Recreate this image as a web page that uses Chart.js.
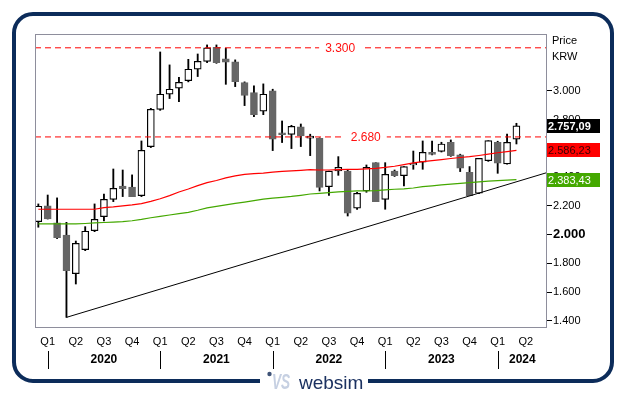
<!DOCTYPE html>
<html lang="en">

<head>
    <meta charset="UTF-8">
    <title>Price KRW monthly</title>
    <script src="https://cdn.jsdelivr.net/npm/chart.js@4.4.0/dist/chart.umd.min.js"></script>
    <style>
        body { margin: 0; background: #fff; }
        canvas { display: block; }
    </style>
</head>

<body>
    <canvas id="myChart" width="629" height="395"></canvas>

    <script>
        // Monthly candles, Dec 2019 - Mar 2024 (one entry per month)
        var months = ['2019-12',
            '2020-01', '2020-02', '2020-03', '2020-04', '2020-05', '2020-06', '2020-07', '2020-08', '2020-09', '2020-10', '2020-11', '2020-12',
            '2021-01', '2021-02', '2021-03', '2021-04', '2021-05', '2021-06', '2021-07', '2021-08', '2021-09', '2021-10', '2021-11', '2021-12',
            '2022-01', '2022-02', '2022-03', '2022-04', '2022-05', '2022-06', '2022-07', '2022-08', '2022-09', '2022-10', '2022-11', '2022-12',
            '2023-01', '2023-02', '2023-03', '2023-04', '2023-05', '2023-06', '2023-07', '2023-08', '2023-09', '2023-10', '2023-11', '2023-12',
            '2024-01', '2024-02', '2024-03'];

        var openPrices = [2091, 2200, 2082, 1998, 1729, 1896, 2028, 2126, 2246, 2339,
            2332, 2272, 2613, 2872, 2977, 3019, 3072, 3151, 3206, 3303,
            3223, 3202, 3058, 2988, 2859, 3000, 2708, 2698, 2750, 2671,
            2671, 2334, 2443, 2443, 2184, 2304, 2501, 2246, 2443, 2411,
            2485, 2504, 2573, 2580, 2643, 2555, 2434, 2288, 2515, 2643,
            2492, 2664];
        var highPrices = [2214, 2276, 2256, 2086, 1956, 2056, 2214, 2283, 2457, 2450,
            2416, 2652, 2879, 3271, 3181, 3095, 3220, 3257, 3320, 3320,
            3297, 3216, 3063, 3035, 3049, 3012, 2791, 2761, 2770, 2699,
            2674, 2443, 2543, 2450, 2295, 2485, 2501, 2501, 2450, 2474,
            2582, 2652, 2652, 2643, 2659, 2560, 2474, 2531, 2654, 2650,
            2699, 2775];
        var lowPrices = [2052, 2109, 1973, 1425, 1657, 1889, 2021, 2096, 2230, 2265,
            2265, 2265, 2606, 2865, 2947, 2926, 3063, 3100, 3197, 3192,
            3046, 3030, 2898, 2821, 2835, 2585, 2641, 2599, 2613, 2550,
            2304, 2274, 2413, 2130, 2175, 2295, 2230, 2177, 2405, 2339,
            2455, 2455, 2555, 2575, 2545, 2439, 2272, 2285, 2510, 2427,
            2490, 2631];
        var closePrices = [2198, 2109, 1980, 1750, 1940, 2024, 2107, 2246, 2323, 2320,
            2265, 2587, 2872, 2977, 3012, 3060, 3151, 3206, 3299, 3197,
            3200, 3065, 2968, 2835, 2977, 2664, 2696, 2754, 2687, 2686,
            2328, 2443, 2469, 2149, 2288, 2469, 2230, 2420, 2411, 2474,
            2497, 2573, 2559, 2631, 2550, 2462, 2272, 2531, 2654, 2497,
            2643, 2757.09];

        // moving averages (red = shorter, green = longer)
        var avgRed = [2177, 2177, 2177, 2177, 2177, 2177, 2177, 2188, 2193, 2200,
            2207, 2216, 2232, 2250, 2272, 2297, 2318, 2341, 2362, 2377,
            2395, 2409, 2419, 2425, 2428, 2435, 2440, 2444, 2448, 2452,
            2450, 2450, 2452, 2454, 2455, 2458, 2462, 2468, 2476, 2488,
            2500, 2508, 2515, 2522, 2530, 2537, 2543, 2551, 2560, 2570,
            2578, 2586.23];
        var avgGreen = [2075, 2075, 2075, 2075, 2075, 2078, 2082, 2085, 2088, 2091,
            2097, 2106, 2118, 2127, 2137, 2146, 2155, 2170, 2187, 2197,
            2208, 2218, 2227, 2237, 2247, 2254, 2260, 2266, 2274, 2283,
            2288, 2293, 2298, 2302, 2305, 2305, 2307, 2312, 2316, 2319,
            2325, 2334, 2340, 2346, 2352, 2357, 2362, 2367, 2372, 2376,
            2380, 2383.43];

        // support trend line: starts at the March 2020 low, ends at the right edge
        var trendMonth = '2020-03';
        var trendValues = [1425, 2432];

        // horizontal levels
        var levels = [3300, 2680];

        // axis labels
        var priceTicks = [1400, 1600, 1800, 2000, 2200, 2400, 2600, 2800, 3000];
        var quarterLabels = ['Q1', 'Q2', 'Q3', 'Q4'];
        var years = ['2020', '2021', '2022', '2023', '2024'];

        var X_MIN = -1.355, X_MAX = 53.26;

        function monthPos(m) {
            var p = m.split('-');
            return (Number(p[0]) - 2020) * 12 + (Number(p[1]) - 1);
        }

        function fmt(v, dec) {
            var s = v.toFixed(dec || 0).split('.');
            var whole = s[0].replace(/\B(?=(\d{3})+(?!\d))/g, '.');
            return s[1] ? whole + ',' + s[1] : whole;
        }

        var xPos = months.map(monthPos);
        var isUp = closePrices.map(function (c, i) { return c >= openPrices[i]; });

        var quarterTicks = [];
        for (var q = 0; q <= X_MAX; q += 3) quarterTicks.push(q);

        var FONT = "'Liberation Sans', Arial, sans-serif";
        Chart.defaults.font.family = FONT;
        Chart.defaults.color = '#000';

        // frame, plot border, year row, value boxes, level labels, logo
        var decor = {
            id: 'decor',
            beforeDraw: function (chart) {
                var ctx = chart.ctx;
                ctx.save();
                ctx.fillStyle = '#fff';
                ctx.fillRect(0, 0, chart.width, chart.height);
                ctx.restore();
            },
            afterDraw: function (chart) {
                var ctx = chart.ctx, a = chart.chartArea;
                var xs = chart.scales.x, ys = chart.scales.y;
                ctx.save();

                // plot border
                ctx.strokeStyle = '#8e8e9c';
                ctx.lineWidth = 1;
                ctx.strokeRect(a.left + 0.5, a.top + 0.5, a.right - a.left - 1, a.bottom - a.top - 1);

                // level labels with white background
                var labelAt = [0.596, 0.646];
                ctx.font = '12px ' + FONT;
                ctx.textAlign = 'center';
                ctx.textBaseline = 'middle';
                levels.forEach(function (lv, i) {
                    var x = a.left + (a.right - a.left) * labelAt[i];
                    var y = ys.getPixelForValue(lv);
                    var w = ctx.measureText(fmt(lv)).width;
                    ctx.fillStyle = '#fff';
                    ctx.fillRect(x - w / 2 - 6, y - 6, w + 12, 12);
                    ctx.fillStyle = '#ff1010';
                    ctx.fillText(fmt(lv), x, y + 0.5);
                });

                // year separators and labels
                ctx.strokeStyle = '#000';
                ctx.lineWidth = 1;
                ctx.font = 'bold 12px ' + FONT;
                ctx.fillStyle = '#000';
                years.forEach(function (yr, i) {
                    var start = (Number(yr) - 2020) * 12;
                    var x0 = xs.getPixelForValue(start);
                    var x1 = xs.getPixelForValue(Math.min(start + 12, X_MAX));
                    ctx.beginPath();
                    ctx.moveTo(Math.round(x0) + 0.5, 351);
                    ctx.lineTo(Math.round(x0) + 0.5, 369);
                    ctx.stroke();
                    ctx.fillText(yr, (x0 + x1) / 2, 360);
                });

                // Price / KRW
                ctx.font = '11px ' + FONT;
                ctx.textAlign = 'left';
                ctx.fillText('Price', a.right + 5, 41);
                ctx.fillText('KRW', a.right + 5, 57);

                // last-value boxes
                var boxes = [
                    { v: closePrices[closePrices.length - 1], bg: '#000', fg: '#fff', bold: true },
                    { v: avgRed[avgRed.length - 1], bg: '#ff0000', fg: '#3a0000', bold: false },
                    { v: avgGreen[avgGreen.length - 1], bg: '#44a800', fg: '#fff', bold: false }
                ];
                boxes.forEach(function (b) {
                    var y = ys.getPixelForValue(b.v);
                    ctx.fillStyle = b.bg;
                    ctx.fillRect(a.right, Math.round(y) - 7, 53, 14);
                    ctx.fillStyle = b.fg;
                    ctx.font = (b.bold ? 'bold ' : '') + '11px ' + FONT;
                    ctx.fillText(fmt(b.v, 2), a.right + 1, Math.round(y) + 0.5);
                });

                // outer rounded frame with a gap for the logo
                var L = 14, T = 14, R = 612, B = 381, r = 19;
                ctx.strokeStyle = '#0c2c5a';
                ctx.lineWidth = 4;
                ctx.beginPath();
                ctx.moveTo(260, B);
                ctx.lineTo(L + r, B);
                ctx.arcTo(L, B, L, B - r, r);
                ctx.lineTo(L, T + r);
                ctx.arcTo(L, T, L + r, T, r);
                ctx.lineTo(R - r, T);
                ctx.arcTo(R, T, R, T + r, r);
                ctx.lineTo(R, B - r);
                ctx.arcTo(R, B, R - r, B, r);
                ctx.lineTo(368, B);
                ctx.stroke();

                // logo
                ctx.fillStyle = '#3f5377';
                ctx.beginPath();
                ctx.arc(269.5, 374, 2.2, 0, Math.PI * 2);
                ctx.fill();
                ctx.textBaseline = 'alphabetic';
                ctx.save();
                ctx.translate(272, 389);
                ctx.scale(0.62, 1);
                ctx.font = 'italic bold 22px ' + FONT;
                ctx.fillStyle = '#c6d0e2';
                ctx.fillText('VS', 0, 0);
                ctx.restore();
                ctx.font = '19px ' + FONT;
                ctx.fillStyle = '#1b3160';
                ctx.fillText('websim', 299, 389);

                ctx.restore();
            }
        };

        var chart = new Chart(document.getElementById('myChart'), {
            type: 'bar',
            data: {
                datasets: [{
                    type: 'line',
                    data: [{ x: X_MIN, y: levels[0] }, { x: X_MAX, y: levels[0] }],
                    borderColor: '#ff0000',
                    borderWidth: 1,
                    borderDash: [6, 4],
                    pointRadius: 0,
                    order: 1
                }, {
                    type: 'line',
                    data: [{ x: X_MIN, y: levels[1] }, { x: X_MAX, y: levels[1] }],
                    borderColor: '#ff0000',
                    borderWidth: 1,
                    borderDash: [6, 4],
                    pointRadius: 0,
                    order: 1
                }, {
                    type: 'line',
                    data: [{ x: monthPos(trendMonth), y: trendValues[0] }, { x: X_MAX, y: trendValues[1] }],
                    borderColor: '#000',
                    borderWidth: 1,
                    pointRadius: 0,
                    order: 2
                }, {
                    type: 'line',
                    data: xPos.map(function (x, i) { return { x: x, y: avgRed[i] }; }),
                    borderColor: '#ff0000',
                    borderWidth: 1.2,
                    pointRadius: 0,
                    order: 3
                }, {
                    type: 'line',
                    data: xPos.map(function (x, i) { return { x: x, y: avgGreen[i] }; }),
                    borderColor: '#44a800',
                    borderWidth: 1.2,
                    pointRadius: 0,
                    order: 3
                }, {
                    // candle bodies
                    type: 'bar',
                    data: xPos.map(function (x, i) { return { x: x, y: [openPrices[i], closePrices[i]] }; }),
                    backgroundColor: function (c) { return isUp[c.dataIndex] ? '#fff' : '#666'; },
                    borderColor: function (c) { return isUp[c.dataIndex] ? '#000' : '#666'; },
                    borderWidth: 1.2,
                    borderSkipped: false,
                    barThickness: 7,
                    grouped: false,
                    order: 4
                }, {
                    // wicks
                    type: 'bar',
                    data: xPos.map(function (x, i) { return { x: x, y: [lowPrices[i], highPrices[i]] }; }),
                    backgroundColor: '#000',
                    barThickness: 1.2,
                    grouped: false,
                    order: 5
                }]
            },
            options: {
                responsive: false,
                animation: false,
                events: [],
                layout: { padding: { left: 35, top: 34, right: 0, bottom: 0 } },
                plugins: {
                    legend: { display: false },
                    tooltip: { enabled: false }
                },
                scales: {
                    x: {
                        type: 'linear',
                        min: X_MIN,
                        max: X_MAX,
                        offset: false,
                        grid: { display: false, drawTicks: false },
                        border: { display: false },
                        afterBuildTicks: function (s) {
                            s.ticks = quarterTicks.map(function (v) { return { value: v }; });
                        },
                        afterFit: function (s) { s.height = 67; },
                        ticks: {
                            autoSkip: false,
                            maxRotation: 0,
                            padding: 7,
                            font: { size: 11 },
                            callback: function (v) { return quarterLabels[(v % 12) / 3]; }
                        }
                    },
                    y: {
                        type: 'linear',
                        position: 'right',
                        min: 1351,
                        max: 3396,
                        grid: { display: true, drawOnChartArea: false, drawTicks: true, tickLength: 5, color: '#000' },
                        border: { display: false },
                        afterBuildTicks: function (s) {
                            s.ticks = priceTicks.map(function (v) { return { value: v }; });
                        },
                        afterFit: function (s) { s.width = 82; },
                        ticks: {
                            padding: 1,
                            font: function (c) {
                                return (c.tick && c.tick.value === 2000) ? { size: 13, weight: 'bold' } : { size: 11 };
                            },
                            callback: function (v) { return fmt(v); }
                        }
                    }
                }
            },
            plugins: [decor]
        });
    </script>
</body>

</html>
